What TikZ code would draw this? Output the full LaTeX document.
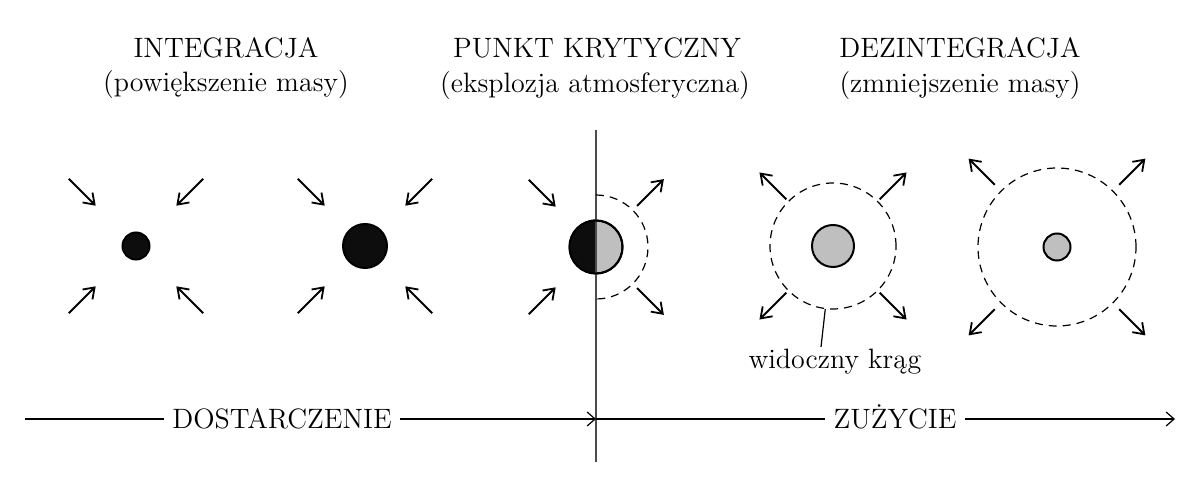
\documentclass[tikz,border=0pt]{standalone}
\usepackage{fontspec}
\usetikzlibrary{arrows, arrows.meta}
\usetikzlibrary{positioning, calc}

\tikzset{
  ray/.style={line width=0.9pt, -{Straight Barb[length=5pt,width=7pt]}},
  dot/.style={circle, draw, line width=1pt, inner sep=0pt},
  dashline/.style={line width=0.6pt, dash pattern=on 4pt off 3pt},
  ring/.style={circle, draw, dashline, inner sep=0pt},
  flow/.style={line width=0.6pt},
  heading/.style={font=\fontsize{14}{18}\selectfont, inner sep=0pt},
  stage/.style={heading, text height=9.6pt, text depth=0pt, inner sep=4pt}
}

\begin{document}
\begin{tikzpicture}[x=0.5pt, y=-0.5pt]
\useasboundingbox (0,0) rectangle (1200,496);

% headings
\node[heading] (integ) at (226,48) {INTEGRACJA};
\node[heading] (integsub) at (226,85) {(powiększenie masy)};
\node[heading] (crisis) at (597,48) {PUNKT KRYTYCZNY};
\node[heading] (crisissub) at (595,86) {(eksplozja atmosferyczna)};
\node[heading] (dezint) at (960,48) {DEZINTEGRACJA};
\node[heading] (dezintsub) at (960,86) {(zmniejszenie masy)};

% critical line
\coordinate (vtop) at (596,130);
\coordinate (vbot) at (596,462);

% masses
\node[dot, fill=black!95, minimum size=13.5pt] (d1) at (136,246) {};
\node[dot, fill=black!95, minimum size=22pt] (d2) at (365,246) {};
\node[dot, fill=black!25, minimum size=26.5pt] (d3) at (596,247) {};
\fill[black!95] (d3.north) arc[start angle=90, end angle=270, radius=13.25pt] -- cycle;
\draw[black!70, line width=0.7pt] (vtop) -- (vbot);
\draw[line width=1pt] (d3.center) circle[radius=13.25pt];
\draw[dashline] (d3.center) ++(0,-52) arc[start angle=90, end angle=-90, radius=26pt];

\node[ring, minimum size=63pt] (ring4) at (833,246) {};
\node[dot, fill=black!25, minimum size=21pt] (d4) at (ring4) {};
\node[ring, minimum size=79pt] (ring5) at (1057,247) {};
\node[dot, fill=black!25, minimum size=13.5pt] (d5) at (ring5) {};

% inflow and outflow
\foreach \c in {d1,d2}
  \foreach \a in {45,135,225,315}
    \draw[ray] (\c) ++(\a:95) -- ++(\a:-38);
\foreach \a in {135,225}
  \draw[ray] (d3) ++(\a:95) -- ++(\a:-38);
\foreach \a in {45,315}
  \draw[ray] (d3) ++(\a:58) -- ++(\a:38);
\foreach \a in {45,135,225,315} {
  \draw[ray] (ring4) ++(\a:66) -- ++(\a:38);
  \draw[ray] (ring5) ++(\a:88) -- ++(\a:37);
}

\node[heading, inner sep=1pt] (seen) at (835,362) {widoczny krąg};
\draw[line width=0.6pt] (ring4.263) -- ($(seen.north)+(-14,0)$);

% time axis
\coordinate (start) at (25,419);
\node[stage] (supply) at (282,419) {DOSTARCZENIE};
\coordinate (crit) at (596,419);
\node[stage] (use) at (895,419) {ZUŻYCIE};
\coordinate (stop) at (1175,419);
\draw[flow] (start) -- (supply.west);
\draw[flow, -{Straight Barb[length=4pt,width=7pt]}] (supply.east) -- (crit);
\draw[flow] (crit) -- (use.west);
\draw[flow, -{Straight Barb[length=4pt,width=7pt]}] (use.east) -- (stop);
\end{tikzpicture}
\end{document}
